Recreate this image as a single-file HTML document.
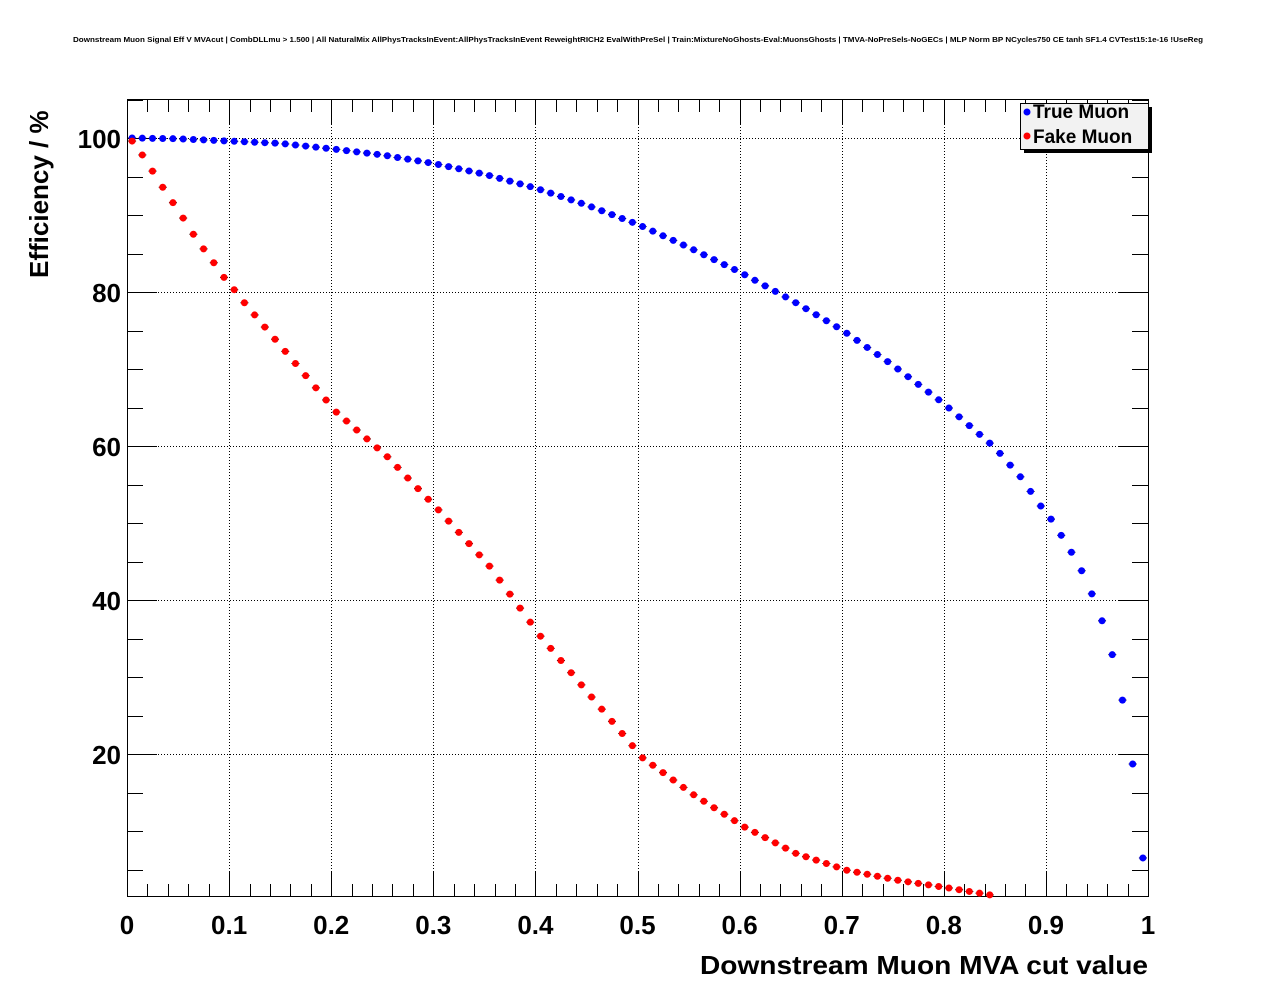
<!DOCTYPE html>
<html><head><meta charset="utf-8"><style>
html,body{margin:0;padding:0;background:#fff;}
svg{display:block;font-family:"Liberation Sans",Arial,sans-serif;}
</style></head><body>
<svg id="s" width="1276" height="996" viewBox="0 0 1276 996" xmlns="http://www.w3.org/2000/svg">
<rect width="1276" height="996" fill="#fff"/>
<text x="73" y="42" font-size="7.5" font-weight="bold" textLength="1130" lengthAdjust="spacingAndGlyphs">Downstream Muon Signal Eff V MVAcut | CombDLLmu &gt; 1.500 | All NaturalMix AllPhysTracksInEvent:AllPhysTracksInEvent ReweightRICH2 EvalWithPreSel | Train:MixtureNoGhosts-Eval:MuonsGhosts | TMVA-NoPreSels-NoGECs | MLP Norm BP NCycles750 CE tanh SF1.4 CVTest15:1e-16 !UseReg</text>
<g id="grid" stroke="#000" stroke-width="1" stroke-dasharray="1,2"></g>
<g id="ticks" stroke="#000" stroke-width="1"></g>
<rect x="127.5" y="99.5" width="1021" height="797" fill="none" stroke="#000" stroke-width="1"/>
<g font-size="26" font-weight="bold" text-anchor="end">
<text x="121" y="148">100</text><text x="121" y="302">80</text><text x="121" y="456">60</text><text x="121" y="610">40</text><text x="121" y="764">20</text>
</g>
<g id="xl" font-size="26" font-weight="bold" text-anchor="middle"></g>
<text x="700" y="974" font-size="26" font-weight="bold" textLength="448" lengthAdjust="spacingAndGlyphs">Downstream Muon MVA cut value</text>
<text transform="translate(48,278) rotate(-90)" font-size="26" font-weight="bold" text-anchor="start">Efficiency / %</text>
<g id="data"></g>
<rect x="1024" y="107" width="128" height="46" fill="#000"/>
<rect x="1020.5" y="103.5" width="128" height="46" fill="#f2f2f2" stroke="#000" stroke-width="1"/>
<circle cx="1027" cy="112" r="3.5" fill="#0000ff"/>
<circle cx="1027" cy="136" r="3.5" fill="#ff0000"/>
<text x="1033" y="118" font-size="19" font-weight="bold">True Muon</text>
<text x="1033" y="143" font-size="19" font-weight="bold">Fake Muon</text>
</svg>
<script>
var NS="http://www.w3.org/2000/svg";
function el(p,t,a){var e=document.createElementNS(NS,t);for(var k in a)e.setAttribute(k,a[k]);document.getElementById(p).appendChild(e);return e;}
function X(v){return 127+v*1021;}
function Y(v){return 908-v*7.7;}
for(var i=1;i<10;i++){var x=Math.round(X(i/10))+0.5;el("grid","line",{x1:x,y1:100,x2:x,y2:896});}
for(var v=20;v<=100;v+=20){var y=Math.round(Y(v))+0.5;el("grid","line",{x1:128,y1:y,x2:1148,y2:y});}
for(var i=0;i<=50;i++){var x=Math.round(X(i/50))+0.5;var L=(i%5==0)?24:12;
el("ticks","line",{x1:x,y1:896,x2:x,y2:896-L});el("ticks","line",{x1:x,y1:100,x2:x,y2:100+L});}
for(var v=5;v<=105;v+=5){var y=Math.round(Y(v))+0.5;var L=(v%20==0)?30:16;
el("ticks","line",{x1:127,y1:y,x2:127+L,y2:y});el("ticks","line",{x1:1148,y1:y,x2:1148-L,y2:y});}
var labs=["0","0.1","0.2","0.3","0.4","0.5","0.6","0.7","0.8","0.9","1"];
for(var i=0;i<=10;i++){var t=el("xl","text",{x:X(i/10),y:934});t.textContent=labs[i];}
function interp(a,x){for(var i=0;i<a.length-1;i++){if(x<=a[i+1][0]){var f=(x-a[i][0])/(a[i+1][0]-a[i][0]);return a[i][1]+f*(a[i+1][1]-a[i][1]);}}return a[a.length-1][1];}
var blue=[[0.005,100],[0.05,99.9],[0.1,99.6],[0.15,99.3],[0.2,98.6],[0.25,97.8],[0.3,96.7],[0.35,95.3],[0.4,93.5],[0.45,91.3],[0.5,88.8],[0.55,85.8],[0.6,82.6],[0.65,79],[0.7,75.1],[0.75,70.5],[0.8,65.5],[0.85,59.8],[0.875,56],[0.895,52.2],[0.905,50.5],[0.915,48.4],[0.925,46.2],[0.935,43.8],[0.945,40.8],[0.955,37.3],[0.965,32.9],[0.975,27.0],[0.985,18.7],[0.995,6.5]];
var red=[[0.005,99.6],[0.015,97.8],[0.025,95.7],[0.035,93.6],[0.045,91.6],[0.055,89.6],[0.065,87.5],[0.075,85.6],[0.085,83.8],[0.095,81.9],[0.105,80.3],[0.115,78.6],[0.205,64.4],[0.255,58.6],[0.305,51.7],[0.355,44.4],[0.405,35.3],[0.455,27.4],[0.505,19.5],[0.555,14.7],[0.605,10.5],[0.655,7.1],[0.705,4.9],[0.755,3.6],[0.805,2.6],[0.845,1.7]];
function draw(a,c,maxx){for(var i=0;i<100;i++){var x=0.005+i*0.01;if(x>maxx+1e-6)break;var v=interp(a,x);var cx=X(x),cy=Y(v);
el("data","line",{x1:cx-4,y1:cy,x2:cx+4,y2:cy,stroke:"#000","stroke-width":1});
el("data","circle",{cx:cx,cy:cy,r:3.5,fill:c});}}
draw(blue,"#0000ff",1);draw(red,"#ff0000",0.845);
</script>
</body></html>
